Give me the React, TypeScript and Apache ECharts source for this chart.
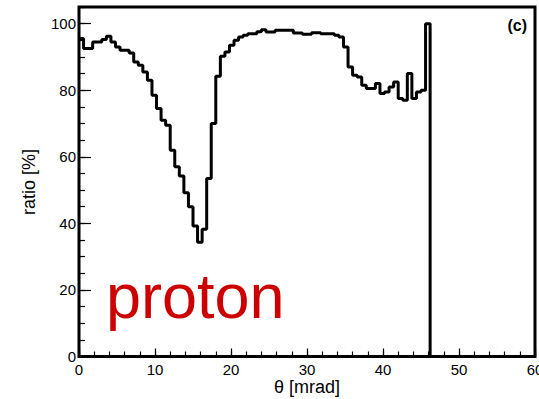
import React, { useEffect, useRef } from "react";
import * as echarts from "echarts";

// Histogram: bin width 0.6 mrad, 100 bins over 0–60 mrad
const binWidth = 0.6;
const xMin = 0;
const xMax = 60;
const ratioValues: number[] = [
  95.5, 92.5, 92.5, 94.5, 94.5, 95.2, 96.2, 94.5, 93, 92,
  92, 91.2, 88.5, 87.5, 85.5, 83, 78.5, 74.5, 71, 69.5,
  62, 57, 54.2, 49.2, 45, 39.2, 34.3, 38.2, 53.5, 70,
  84.2, 90.2, 91.5, 93.5, 95, 96, 96.5, 97, 97, 97.6,
  98.2, 97.5, 97.5, 98, 98, 98, 98, 97.2, 97.2, 96.8,
  96.8, 97.3, 97.3, 97, 97, 97, 96.5, 96, 93, 87,
  84.5, 84, 81.5, 80.5, 80.5, 82, 79, 79.5, 81, 82.5,
  77.5, 77, 85, 77.5, 79.5, 80, 100, 0, 0, 0,
  0, 0, 0, 0, 0, 0, 0, 0, 0, 0,
  0, 0, 0, 0, 0, 0, 0, 0, 0, 0,
];
const yTickLabels = [0, 20, 40, 60, 80, 100];
const xTickLabels = [0, 10, 20, 30, 40, 50, 60];
const xTitle = "θ [mrad]";
const yTitle = "ratio [%]";
const panelLabel = "(c)";
const particleLabel = "proton";

export default function App() {
  const ref = useRef<HTMLDivElement>(null);
  useEffect(() => {
    if (!ref.current) return;
    const chart = echarts.init(ref.current, undefined, { renderer: "svg" });
    const data: number[][] = ratioValues.map((v, i) => [xMin + i * binWidth, v]);
    data.push([xMax, ratioValues[ratioValues.length - 1]]);
    const labelFont = { fontFamily: "Liberation Sans", fontSize: 15, color: "#000" };
    chart.setOption({
      animation: false,
      backgroundColor: "#fff",
      grid: {
        left: 79,
        right: 4,
        top: 7,
        bottom: 42.5,
        show: true,
        borderColor: "#000",
        borderWidth: 3,
        backgroundColor: "transparent",
        containLabel: false,
        outerBoundsMode: "none",
      },
      xAxis: [
        {
          type: "value",
          min: xMin,
          max: xMax,
          interval: 10,
          axisLine: { show: false },
          axisTick: { show: true, inside: true, length: 8, lineStyle: { color: "#000", width: 1.2 } },
          splitLine: { show: false },
          axisLabel: {
            ...labelFont,
            margin: 5,
            formatter: (v: number) => (xTickLabels.includes(v) ? String(v) : ""),
          },
        },
        {
          type: "value",
          position: "bottom",
          min: xMin,
          max: xMax,
          interval: 2,
          axisLine: { show: false },
          axisTick: { show: true, inside: true, length: 5, lineStyle: { color: "#000", width: 1.2 } },
          splitLine: { show: false },
          axisLabel: { show: false },
        },
      ],
      yAxis: [
        {
          type: "value",
          min: 0,
          max: 105,
          interval: 20,
          axisLine: { show: false },
          axisTick: { show: true, inside: true, length: 12, lineStyle: { color: "#000", width: 1.2 } },
          splitLine: { show: false },
          axisLabel: {
            ...labelFont,
            margin: 3,
            showMaxLabel: false,
            formatter: (v: number) => (yTickLabels.includes(v) ? String(v) : ""),
          },
        },
        {
          type: "value",
          position: "left",
          min: 0,
          max: 105,
          interval: 5,
          axisLine: { show: false },
          axisTick: { show: true, inside: true, length: 6, lineStyle: { color: "#000", width: 1.2 } },
          splitLine: { show: false },
          axisLabel: { show: false },
        },
      ],
      series: [
        {
          type: "line",
          step: "end",
          data,
          xAxisIndex: 0,
          yAxisIndex: 0,
          showSymbol: false,
          symbol: "none",
          clip: true,
          lineStyle: { color: "#000", width: 3 },
          z: 3,
        },
      ],
      graphic: [
        {
          type: "text",
          x: 307,
          y: 387,
          style: {
            text: xTitle,
            font: '18px "Liberation Sans"',
            fill: "#000",
            textAlign: "center",
            textVerticalAlign: "middle",
          },
        },
        {
          type: "text",
          x: 29,
          y: 182,
          rotation: Math.PI / 2,
          style: {
            text: yTitle,
            font: '18px "Liberation Sans"',
            fill: "#000",
            textAlign: "center",
            textVerticalAlign: "middle",
          },
        },
        {
          type: "text",
          x: 527,
          y: 25,
          style: {
            text: panelLabel,
            font: 'bold 16px "Liberation Sans"',
            fill: "#000",
            textAlign: "right",
            textVerticalAlign: "middle",
          },
        },
        {
          type: "text",
          x: 106,
          y: 296,
          style: {
            text: particleLabel,
            font: '63px "Liberation Sans"',
            fill: "#cc0000",
            textAlign: "left",
            textVerticalAlign: "middle",
          },
        },
      ],
    });
    return () => chart.dispose();
  }, []);
  return (
    <div
      ref={ref}
      style={{ position: "fixed", left: 0, top: 0, width: 539, height: 399, background: "#fff" }}
    />
  );
}
